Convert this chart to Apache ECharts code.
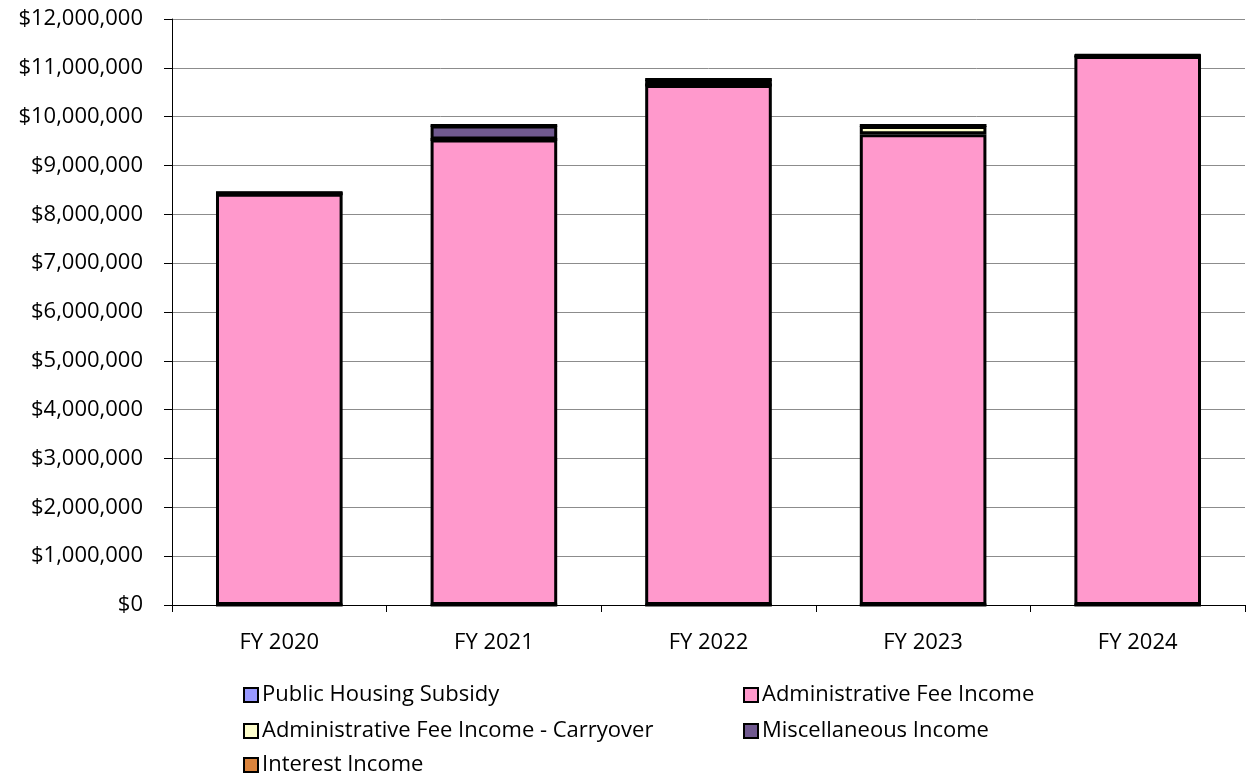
<!DOCTYPE html>
<html><head><meta charset="utf-8">
<script src="https://cdn.jsdelivr.net/npm/echarts@6/dist/echarts.min.js"></script>
<style>html,body{margin:0;padding:0;background:#fff}#c{width:1246px;height:778px}</style>
</head><body><div id="c"></div>
<script>
const categories = ['FY 2020','FY 2021','FY 2022','FY 2023','FY 2024'];
const publicHousing = [0, 0, 0, 0, 0];
const adminFee = [8420000, 9530000, 10650000, 9640000, 11240000];
const adminCarryover = [0, 0, 0, 170000, 0];
const miscIncome = [20000, 290000, 110000, 10000, 10000];
const interestIncome = [0, 0, 0, 0, 20000];
const seriesNames = ['Public Housing Subsidy','Administrative Fee Income','Administrative Fee Income - Carryover','Miscellaneous Income','Interest Income'];
const colors = ['#9999FF','#FF99CC','#FFFFCC','#70598F','#DB843D'];
const values = [publicHousing, adminFee, adminCarryover, miscIncome, interestIncome];

const font = 'Open Sans';
const fs = 22;
const chart = echarts.init(document.getElementById('c'));
const legendPos = [[238, 679], [738, 679], [238, 715], [738, 715], [238, 749]];
const legends = seriesNames.map((n, i) => ({
  left: legendPos[i][0], top: legendPos[i][1], data: [n],
  itemWidth: 14, itemHeight: 14, itemGap: 0, icon: 'rect',
  textStyle: {fontFamily: font, fontSize: fs, color: '#000', padding: [0, 0, 0, -1]},
  itemStyle: {borderColor: '#000', borderWidth: 2}
}));
chart.setOption({
  animation: false,
  color: colors,
  textStyle: {fontFamily: font},
  grid: {left: 172, right: 1, top: 19, bottom: 173},
  legend: legends,
  xAxis: {
    type: 'category', data: categories,
    axisLine: {lineStyle: {color: '#000', width: 1}},
    axisTick: {show: true, length: 7, lineStyle: {color: '#000'}},
    axisLabel: {fontFamily: font, fontSize: fs, color: '#000', margin: 27}
  },
  yAxis: {
    type: 'value', min: 0, max: 12000000, interval: 1000000,
    axisLine: {show: true, lineStyle: {color: '#000', width: 1}},
    axisTick: {show: true, length: 8, lineStyle: {color: '#000'}},
    splitLine: {lineStyle: {color: '#8c8c8c', width: 1}},
    axisLabel: {fontFamily: font, fontSize: fs, color: '#000', margin: 29,
      formatter: v => '$' + v.toLocaleString('en-US')}
  },
  series: seriesNames.map((n, i) => ({
    name: n, type: 'bar', stack: 'total', data: values[i],
    barWidth: '59%',
    itemStyle: {color: colors[i], borderColor: '#000', borderWidth: 3}
  }))
});
</script></body></html>
